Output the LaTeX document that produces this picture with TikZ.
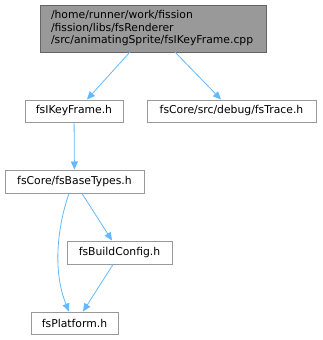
\documentclass[tikz,border=0pt]{standalone}
\usepackage{fontspec}
\setmainfont{DejaVu Sans}
\usetikzlibrary{arrows.meta}
\definecolor{edgec}{HTML}{63B8FF}
\definecolor{topfill}{HTML}{999999}
\definecolor{topdraw}{HTML}{666666}
\definecolor{boxdraw}{HTML}{999999}
\tikzset{
  filebox/.style={draw=boxdraw, fill=white, line width=1pt, inner sep=0pt, font=\fontsize{10.8}{12.5}\selectfont},
  topbox/.style={draw=topdraw, fill=topfill, line width=1pt, inner sep=0pt, font=\fontsize{10.8}{12.5}\selectfont, align=left},
  dep/.style={draw=edgec, line width=0.8pt, -{Triangle[length=8pt,width=7pt]}}
}
\begin{document}
\begin{tikzpicture}[x=1pt,y=-1pt]
\useasboundingbox (0,0) rectangle (322,340);
\node[topbox, minimum width=226pt, minimum height=47pt, text width=204pt] (top) at (153,28.5) {/home/runner/work/fission\\/fission/libs/fsRenderer\\/src/animatingSprite/fsIKeyFrame.cpp};
\node[filebox, minimum width=98pt, minimum height=22pt] (kf) at (74,111) {fsIKeyFrame.h};
\node[filebox, minimum width=169pt, minimum height=22pt] (tr) at (231.5,111) {fsCore/src/debug/fsTrace.h};
\node[filebox, minimum width=139pt, minimum height=23pt] (bt) at (74.5,181.5) {fsCore/fsBaseTypes.h};
\node[filebox, minimum width=105pt, minimum height=23pt] (bc) at (119.5,252.5) {fsBuildConfig.h};
\node[filebox, minimum width=87pt, minimum height=22pt] (pl) at (74.5,323) {fsPlatform.h};
\draw[dep] (130,52) -- (kf.north -| 87,0);
\draw[dep] (175,52) -- (tr.north -| 221,0);
\draw[dep] (kf) -- (bt);
\draw[dep] (bt.south -| 69,0) .. controls (58,225) and (52,270) .. (pl.north -| 69,0);
\draw[dep] (bt.south -| 82,0) -- (bc.north -| 112,0);
\draw[dep] (bc.south -| 113,0) -- (pl.north -| 83,0);
\end{tikzpicture}
\end{document}
